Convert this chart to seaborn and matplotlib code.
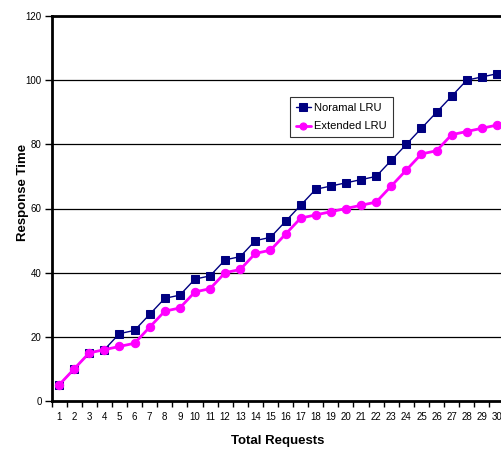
import pandas as pd
import seaborn as sns
import matplotlib.pyplot as plt
from matplotlib.ticker import MultipleLocator

requests = list(range(1, 31))
normal_lru = [5, 10, 15, 16, 21, 22, 27, 32, 33, 38, 39, 44, 45, 50, 51,
              56, 61, 66, 67, 68, 69, 70, 75, 80, 85, 90, 95, 100, 101, 102]
extended_lru = [5, 10, 15, 16, 17, 18, 23, 28, 29, 34, 35, 40, 41, 46, 47,
                52, 57, 58, 59, 60, 61, 62, 67, 72, 77, 78, 83, 84, 85, 86]

sns.set_style("white", {'text.color': 'black', 'axes.labelcolor': 'black',
                        'xtick.color': 'black', 'ytick.color': 'black'})
plt.rcParams['font.family'] = ['Liberation Sans', 'DejaVu Sans']

df = pd.DataFrame({'Total Requests': requests,
                   'Noramal LRU': normal_lru,
                   'Extended LRU': extended_lru})

fig = plt.figure(figsize=(5.02, 4.5), dpi=100)
ax = fig.add_axes([51.5 / 502, 1 - 401 / 450, 453 / 502, 385 / 450])

for y in range(20, 120, 20):
    ax.axhline(y, color='black', lw=0.9, zorder=0)

sns.lineplot(data=df, x='Total Requests', y='Noramal LRU', ax=ax, color='#000080',
             lw=1, marker='s', markersize=6, markeredgecolor='#000080',
             label='Noramal LRU')
sns.lineplot(data=df, x='Total Requests', y='Extended LRU', ax=ax, color='#ff00ff',
             lw=2, marker='o', markersize=6, markeredgecolor='#ff00ff',
             label='Extended LRU')

ax.set_xlim(0.5, 30.5)
ax.set_ylim(0, 120)
ax.set_xticks(requests)
ax.set_xticklabels([str(r) for r in requests], fontsize=7)
ax.xaxis.set_minor_locator(MultipleLocator(1, offset=0.5))
ax.tick_params(axis='x', which='major', length=0, pad=8)
ax.tick_params(axis='x', which='minor', length=4, width=1, color='black', direction='out', bottom=True)
ax.set_yticks(range(0, 121, 20))
ax.tick_params(axis='y', labelsize=7, length=5, width=1, color='black', left=True, pad=2)

for side in ['left', 'bottom', 'top']:
    ax.spines[side].set_color('black')
    ax.spines[side].set_linewidth(2)
ax.spines['right'].set_visible(False)

ax.set_xlabel('Total Requests', fontsize=9.5, fontweight='bold')
ax.xaxis.set_label_coords((278 - 51.5) / 453, -(435 - 401) / 385)
ax.set_ylabel('Response Time', fontsize=9.5, fontweight='bold')
ax.yaxis.set_label_coords(-(51.5 - 29) / 453, (401 - 192) / 385)

leg = ax.legend(loc='upper left', bbox_to_anchor=((290 - 51.5) / 453, (401 - 97) / 385),
                fontsize=8, frameon=True, fancybox=False, edgecolor='black',
                borderpad=0.5, handlelength=1.4, handletextpad=0.3,
                labelspacing=0.8, borderaxespad=0, markerscale=0.85)
leg.get_frame().set_linewidth(0.8)

fig.savefig('out.png', dpi=100)
